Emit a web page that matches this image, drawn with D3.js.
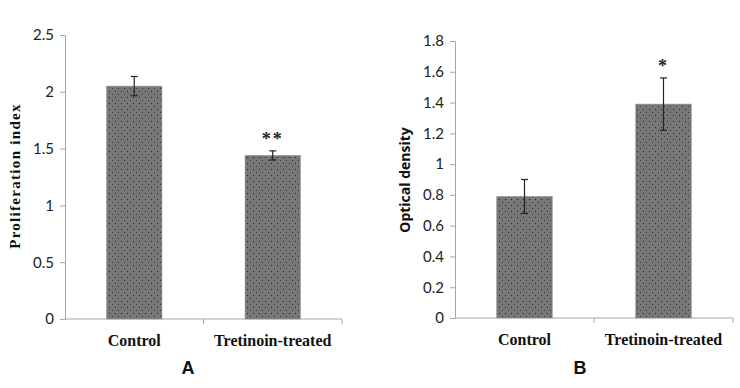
<!DOCTYPE html>
<html>
<head>
<meta charset="utf-8">
<title>Proliferation and optical density</title>
<script src="https://cdnjs.cloudflare.com/ajax/libs/d3/7.8.5/d3.min.js"></script>
<style>
    html, body { margin: 0; padding: 0; background: #fff; }
    svg { display: block; }
    .tick text { font-family: Lato, 'Open Sans', sans-serif; font-size: 15px; fill: #222; }
    .cat { font-family: 'Liberation Serif', serif; font-weight: bold; font-size: 16px; fill: #111; }
</style>
</head>
<body>
<svg id="chart" width="740" height="388"></svg>
<script>
    const categories = ["Control", "Tretinoin-treated"];

    // panel A
    const prolifValues = [2.05, 1.44];
    const prolifErrors = [0.085, 0.04];
    const prolifStars = ["", "**"];
    const prolifTicks = [0, 0.5, 1, 1.5, 2, 2.5];

    // panel B
    const odValues = [0.79, 1.39];
    const odErrors = [0.11, 0.17];
    const odStars = ["", "*"];
    const odTicks = [0, 0.2, 0.4, 0.6, 0.8, 1, 1.2, 1.4, 1.6, 1.8];

    const svg = d3.select("#chart");

    // dotted bar fill
    const pat = svg.append("defs").append("pattern")
        .attr("id", "dots")
        .attr("width", 6).attr("height", 6)
        .attr("patternUnits", "userSpaceOnUse");
    pat.append("rect").attr("width", 6).attr("height", 6).attr("fill", "#777");
    pat.append("rect").attr("x", 1).attr("y", 1).attr("width", 1).attr("height", 1).attr("fill", "#222");
    pat.append("rect").attr("x", 4).attr("y", 4).attr("width", 1).attr("height", 1).attr("fill", "#3a3a3a");

    function panel(opts) {
        const g = svg.append("g");
        const x = d3.scaleBand().domain(categories).range([opts.left, opts.right]).paddingInner(0).paddingOuter(0);
        const y = d3.scaleLinear().domain([0, opts.max]).range([opts.bottom, opts.top]);

        const yAxis = g.append("g")
            .attr("transform", `translate(${opts.left},0)`)
            .call(d3.axisLeft(y).tickValues(opts.ticks).tickSize(5).tickPadding(6).tickFormat(d => String(d)));
        yAxis.selectAll("path, line").attr("stroke", "#a6a6a6");

        // x axis: line plus ticks at band boundaries
        g.append("line")
            .attr("x1", opts.left).attr("x2", opts.right)
            .attr("y1", opts.bottom).attr("y2", opts.bottom)
            .attr("stroke", "#a6a6a6");
        g.selectAll(".xt").data(categories).enter().append("line")
            .attr("x1", d => x(d) + x.bandwidth()).attr("x2", d => x(d) + x.bandwidth())
            .attr("y1", opts.bottom).attr("y2", opts.bottom + 5)
            .attr("stroke", "#a6a6a6");

        const bw = x.bandwidth() * 0.4;
        const cx = d => x(d) + x.bandwidth() / 2;

        g.selectAll(".bar").data(categories).enter().append("rect")
            .attr("x", d => cx(d) - bw / 2)
            .attr("y", (d, i) => y(opts.values[i]))
            .attr("width", bw)
            .attr("height", (d, i) => opts.bottom - y(opts.values[i]))
            .attr("fill", "url(#dots)")
            .attr("stroke", "#999").attr("stroke-width", 0.6);

        // error bars
        categories.forEach((c, i) => {
            const hi = y(opts.values[i] + opts.errors[i]);
            const lo = y(opts.values[i] - opts.errors[i]);
            g.append("line").attr("x1", cx(c)).attr("x2", cx(c)).attr("y1", hi).attr("y2", lo)
                .attr("stroke", "#222").attr("stroke-width", 1.2);
            [hi, lo].forEach(v => g.append("line")
                .attr("x1", cx(c) - 3.5).attr("x2", cx(c) + 3.5).attr("y1", v).attr("y2", v)
                .attr("stroke", "#222").attr("stroke-width", 1.2));
            if (opts.stars[i]) {
                g.append("text")
                    .attr("x", cx(c)).attr("y", hi - 6)
                    .attr("text-anchor", "middle")
                    .style("font-family", "'Liberation Serif', serif")
                    .style("font-weight", "bold")
                    .style("font-size", "18px")
                    .style("letter-spacing", "2px")
                    .attr("fill", "#222")
                    .text(opts.stars[i]);
            }
        });

        g.selectAll(".cat").data(categories).enter().append("text")
            .attr("class", "cat")
            .attr("x", d => cx(d)).attr("y", opts.bottom + 27)
            .attr("text-anchor", "middle")
            .text(d => d);

        g.append("text")
            .attr("transform", `translate(${opts.titleX},${opts.titleY}) rotate(-90)`)
            .attr("text-anchor", "middle")
            .style("font-family", opts.titleFont)
            .style("font-weight", "bold")
            .style("font-size", opts.titleSize)
            .style("letter-spacing", opts.titleSpacing)
            .attr("fill", "#111")
            .text(opts.title);

        g.append("text")
            .attr("x", opts.letterX).attr("y", 374)
            .attr("text-anchor", "middle")
            .style("font-family", "'Liberation Sans', sans-serif")
            .style("font-weight", "bold")
            .style("font-size", "18px")
            .attr("fill", "#111")
            .text(opts.letter);
    }

    panel({
        left: 65, right: 342, top: 35, bottom: 319, max: 2.5,
        ticks: prolifTicks, values: prolifValues, errors: prolifErrors, stars: prolifStars,
        title: "Proliferation index", titleX: 20, titleY: 176, titleFont: "'Liberation Serif', serif",
        titleSize: "15px", titleSpacing: "1.3px",
        letter: "A", letterX: 188
    });

    panel({
        left: 455, right: 733, top: 41, bottom: 318, max: 1.8,
        ticks: odTicks, values: odValues, errors: odErrors, stars: odStars,
        title: "Optical density", titleX: 410, titleY: 180, titleFont: "'Open Sans', sans-serif",
        titleSize: "14px", titleSpacing: "0px",
        letter: "B", letterX: 580
    });
</script>
</body>
</html>
